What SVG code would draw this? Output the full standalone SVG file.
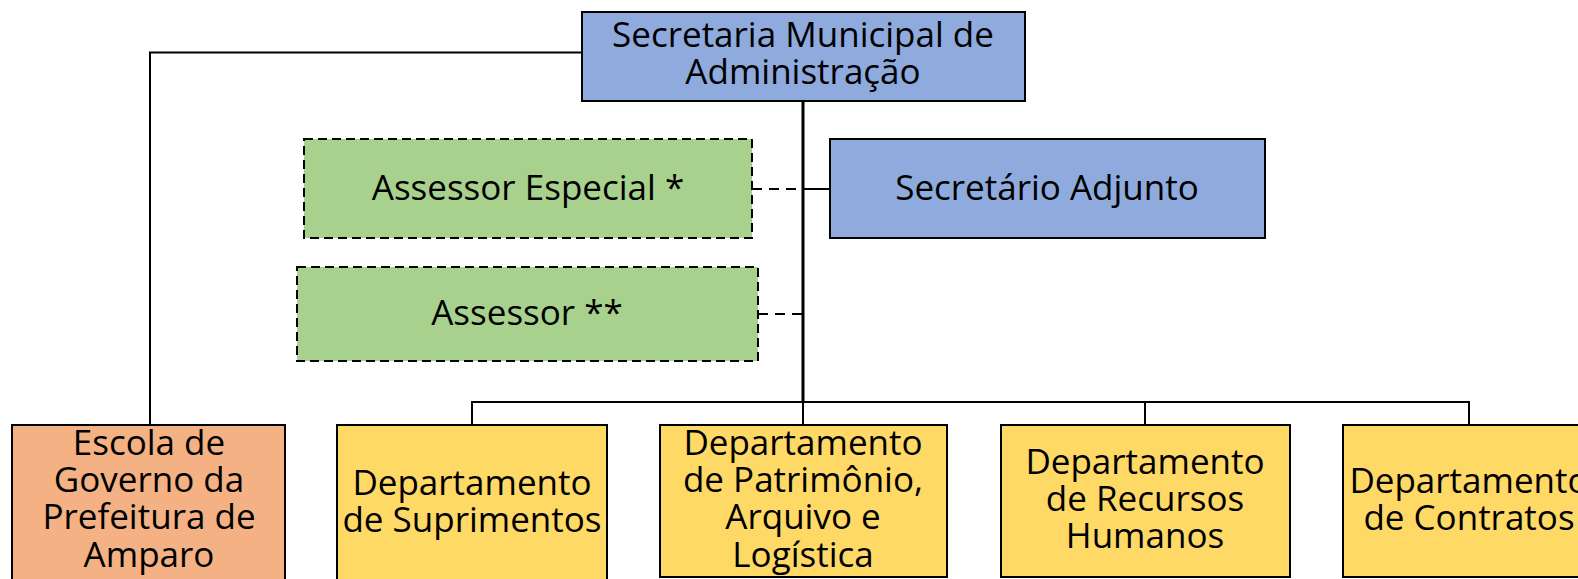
<svg xmlns="http://www.w3.org/2000/svg" width="1578" height="579" viewBox="0 0 1578 579">
<style>
.box{stroke:#000;stroke-width:2}
.blue{fill:#8FAADC}
.green{fill:#A9D18E;stroke-dasharray:9 5}
.yellow{fill:#FFD966}
.orange{fill:#F4B183}
text{font-family:"Open Sans","Noto Sans",sans-serif;font-size:35px;fill:#000;text-anchor:middle}
.ln{fill:none;stroke:#000;stroke-width:2}
.trunk{fill:none;stroke:#000;stroke-width:3}
.dash{fill:none;stroke:#000;stroke-width:2;stroke-dasharray:10 7}
</style>
<rect width="1578" height="579" fill="#fff"/>
<g id="connectors">
<path class="ln" d="M582 52.5H150V425"/>
<path class="trunk" d="M803 101V402"/>
<path class="ln" d="M803 189H830"/>
<path class="dash" d="M752 189H802"/>
<path class="dash" d="M758 314H802"/>
<path class="ln" d="M472 425V402H1469V425M803 402V425M1145 402V425"/>
</g>
<g id="secretaria">
<rect class="box blue" x="582" y="12" width="443" height="89"/>
<text x="803" y="47">Secretaria Municipal de</text>
<text x="803" y="84">Administração</text>
</g>
<g id="adjunto">
<rect class="box blue" x="830" y="139" width="435" height="99"/>
<text x="1047" y="200">Secretário Adjunto</text>
</g>
<g id="assessor-especial">
<rect class="box green" x="304" y="139" width="448" height="99"/>
<text x="528" y="200">Assessor Especial *</text>
</g>
<g id="assessor">
<rect class="box green" x="297" y="267" width="461" height="94"/>
<text x="527" y="325">Assessor **</text>
</g>
<g id="escola">
<rect class="box orange" x="12" y="425" width="273" height="170"/>
<text x="149" y="455">Escola de</text>
<text x="149" y="492">Governo da</text>
<text x="149" y="529">Prefeitura de</text>
<text x="149" y="567">Amparo</text>
</g>
<g id="suprimentos">
<rect class="box yellow" x="337" y="425" width="270" height="170"/>
<text x="472" y="495">Departamento</text>
<text x="472" y="532">de Suprimentos</text>
</g>
<g id="patrimonio">
<rect class="box yellow" x="660" y="425" width="287" height="152"/>
<text x="803" y="455">Departamento</text>
<text x="803" y="492">de Patrimônio,</text>
<text x="803" y="529">Arquivo e</text>
<text x="803" y="567">Logística</text>
</g>
<g id="rh">
<rect class="box yellow" x="1001" y="425" width="289" height="152"/>
<text x="1145" y="474">Departamento</text>
<text x="1145" y="511">de Recursos</text>
<text x="1145" y="548">Humanos</text>
</g>
<g id="contratos">
<rect class="box yellow" x="1343" y="425" width="260" height="152"/>
<text x="1469" y="493">Departamento</text>
<text x="1469" y="530">de Contratos</text>
</g>
</svg>
